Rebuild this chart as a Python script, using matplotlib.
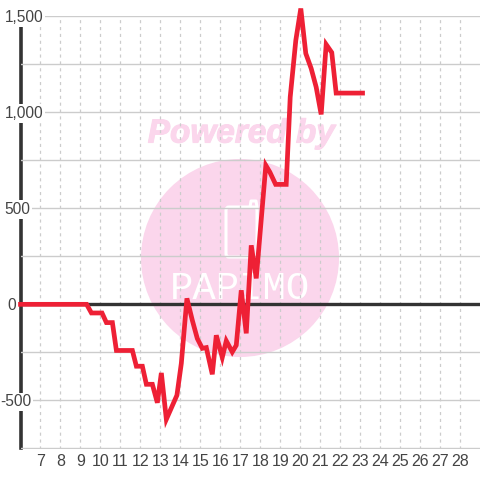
import matplotlib
matplotlib.use('Agg')
import matplotlib.pyplot as plt
import matplotlib.patheffects as pe
from matplotlib.patches import Circle, FancyBboxPatch

# profit curve
hours = [6.0, 9.31, 9.55, 10.08, 10.3, 10.6, 10.8, 11.6, 11.8, 12.1, 12.3, 12.6, 12.85, 13.05, 13.3,
         13.83, 14.05, 14.33, 14.6, 14.85, 15.1, 15.3, 15.6, 15.8, 16.1, 16.3, 16.6, 16.8, 17.05, 17.3,
         17.55, 17.8, 18.28, 18.48, 18.77, 19.3, 19.5, 19.78, 20.03, 20.28, 20.55, 20.8, 21.05, 21.3,
         21.58, 21.8, 23.12]
profit = [0, 0, -45, -45, -95, -95, -240, -240, -322, -322, -416, -416, -512, -357, -598,
          -473, -307, 31, -83, -178, -229, -225, -364, -161, -276, -190, -248, -213, 73, -151,
          307, 135, 723, 688, 624, 624, 1078, 1373, 1539, 1305, 1227, 1130, 988, 1352,
          1310, 1099, 1099]

x_ticks = list(range(7, 29))
y_labels = [-500, 0, 500, 1000, 1500]
y_grid = [-750, -500, -250, 0, 250, 500, 750, 1000, 1250, 1500]

W = 480.0


def px_x(p):
    return p / W


def px_y(p):
    return 1 - p / W


plt.rcParams['font.family'] = ['Liberation Sans', 'DejaVu Sans']
fig = plt.figure(figsize=(4.8, 4.8), dpi=100)
ax = fig.add_axes([px_x(20.5), px_y(448.5), px_x(480 - 20.5), (448.5 - 16) / W])
ax.set_xlim(6, 29)
ax.set_ylim(-750, 1500)
for s in ['top', 'right', 'bottom']:
    ax.spines[s].set_visible(False)
ax.spines['left'].set_linewidth(2.6)
ax.spines['left'].set_color('#333333')
ax.spines['left'].set_zorder(1.5)

# watermark, in figure pixels, under the grid
wm = fig.add_axes([0, 0, 1, 1], zorder=-1)
wm.set_xlim(0, 480)
wm.set_ylim(480, 0)
wm.axis('off')
wm.add_patch(Circle((240, 258), 99, fc='#fbd6ec', ec='none'))
wm.add_patch(FancyBboxPatch((226, 207), 31, 50, boxstyle='round,pad=0,rounding_size=3',
                            fc='none', ec='white', lw=2.2))
wm.plot([250, 251, 256, 257], [207, 201, 201, 207], color='white', lw=2.2)
pw = wm.text(241.5, 134, 'Powered by', color='#fbd6ec', fontsize=24, fontweight='bold', fontstyle='italic',
             ha='center', va='center')
pw.set_path_effects([pe.withStroke(linewidth=0.8, foreground='#fbd6ec')])
wm.text(240, 289, 'PAPIMO', color='white', fontsize=28, ha='center', va='center', family='Liberation Mono')
ax.patch.set_visible(False)

ax.set_yticks(y_grid)
ax.set_xticks(x_ticks)
ax.tick_params(length=0, labelleft=False, labelsize=11.5, labelcolor='#444444', pad=4)
ax.set_xticklabels([str(t) for t in x_ticks])
ax.grid(axis='y', color='#cccccc', lw=1.0, zorder=1)
ax.grid(axis='x', color='#cccccc', lw=0.9, ls=(0, (2.5, 3)), zorder=1)
ax.axhline(0, color='#333333', lw=2.4, zorder=2)

ax.plot(hours, profit, color='#ee2035', lw=3.4, solid_joinstyle='miter', clip_on=False, zorder=3)

# labels sit over the axis line with a white box behind them
label_right = {-500: 31, 0: 16, 500: 30, 1000: 43, 1500: 43}
for v in y_labels:
    fig.text(px_x(label_right[v]), px_y(17.5 + (1500 - v) * 432.5 / 2250), f'{v:,}', color='#444444',
             fontsize=11.2, ha='right', va='center', zorder=5,
             bbox=dict(fc='white', ec='none', pad=1.3))

fig.savefig('out.png', dpi=100)
